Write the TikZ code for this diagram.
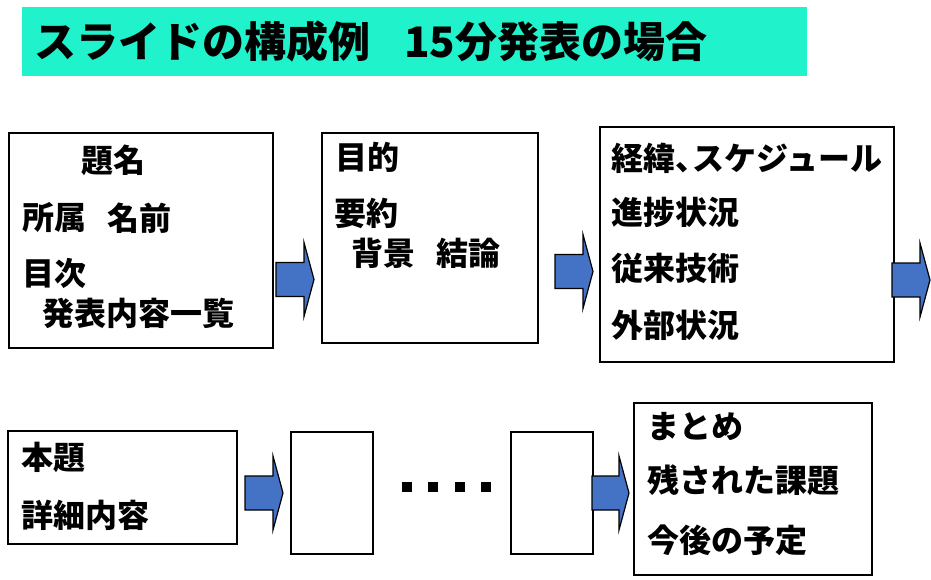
\documentclass[tikz,border=0pt]{standalone}
\usepackage{fontspec}
\setmainfont{Noto Sans CJK JP}
\definecolor{band}{RGB}{32,242,204}
\definecolor{arrowblue}{RGB}{68,114,196}
\begin{document}
\begin{tikzpicture}[x=1pt,y=-1pt,
  box/.style={draw=black, line width=1.2pt, fill=white, inner sep=0pt, outer sep=0pt, anchor=north west},
  txt/.style={anchor=west, inner sep=0pt, font=\fontsize{32}{32}\selectfont\bfseries},
  blockarrow/.style={draw=black, line width=1.2pt, fill=arrowblue, line join=miter},
  sqdot/.style={fill=black, inner sep=0pt, minimum size=10pt}]
\useasboundingbox (0,0) rectangle (931,580);
% title band
\fill[band] (22,7) rectangle (807,76);
\node[anchor=west, inner sep=0pt, font=\fontsize{42}{42}\selectfont\bfseries] (title) at (34,42) {スライドの構成例\hspace{34pt}15分発表の場合};
% boxes
\node[box, minimum width=264pt, minimum height=215pt] (b1) at (9,133) {};
\node[box, minimum width=216pt, minimum height=210pt] (b2) at (322,133) {};
\node[box, minimum width=294pt, minimum height=235pt] (b3) at (600,127) {};
\node[box, minimum width=229pt, minimum height=113pt] (b4) at (8,431) {};
\node[box, minimum width=82pt, minimum height=122pt] (b5) at (291,432) {};
\node[box, minimum width=82pt, minimum height=122pt] (b6) at (511,432) {};
\node[box, minimum width=238pt, minimum height=172pt] (b7) at (634,403) {};
% texts box 1
\node[txt] (t11) at (81,160) {題名};
\node[txt] (t12) at (22,218) {所属};
\node[txt] (t13) at (107,218) {名前};
\node[txt] (t14) at (22,273) {目次};
\node[txt] (t15) at (42,313) {発表内容一覧};
% box 2
\node[txt] (t21) at (335,157) {目的};
\node[txt] (t22) at (334,213) {要約};
\node[txt] (t23) at (351,253) {背景};
\node[txt] (t24) at (436,253) {結論};
% box 3
\node[txt] (t31) at (611,158) {経緯、\kern-0.45emスケジュール};
\node[txt] (t32) at (611,212) {進捗状況};
\node[txt] (t33) at (611,268) {従来技術};
\node[txt] (t34) at (611,325) {外部状況};
% box 4
\node[txt] (t41) at (21,457) {本題};
\node[txt] (t42) at (21,515) {詳細内容};
% box 7
\node[txt] (t71) at (647,427) {まとめ};
\node[txt] (t72) at (647,480) {残された課題};
\node[txt] (t73) at (647,540) {今後の予定};
% block arrows
\draw[blockarrow] (276,279.5) ++(0,-17) -- ++(28,0) -- ++(0,-20) -- ++(10,37) -- ++(-10,37) -- ++(0,-20) -- ++(-28,0) -- cycle;
\draw[blockarrow] (555,271.5) ++(0,-17) -- ++(28,0) -- ++(0,-20) -- ++(10,37) -- ++(-10,37) -- ++(0,-20) -- ++(-28,0) -- cycle;
\draw[blockarrow] (892,280) ++(0,-17) -- ++(28,0) -- ++(0,-20) -- ++(10,37) -- ++(-10,37) -- ++(0,-20) -- ++(-28,0) -- cycle;
\draw[blockarrow] (245,493) ++(0,-17) -- ++(28,0) -- ++(0,-20) -- ++(10,37) -- ++(-10,37) -- ++(0,-20) -- ++(-28,0) -- cycle;
\draw[blockarrow] (592,493) ++(0,-17) -- ++(27,0) -- ++(0,-20) -- ++(10,37) -- ++(-10,37) -- ++(0,-20) -- ++(-27,0) -- cycle;
% dots
\node[sqdot] (d1) at (407,487) {};
\node[sqdot] (d2) at (433,487) {};
\node[sqdot] (d3) at (460,487) {};
\node[sqdot] (d4) at (486,487) {};
\end{tikzpicture}
\end{document}
